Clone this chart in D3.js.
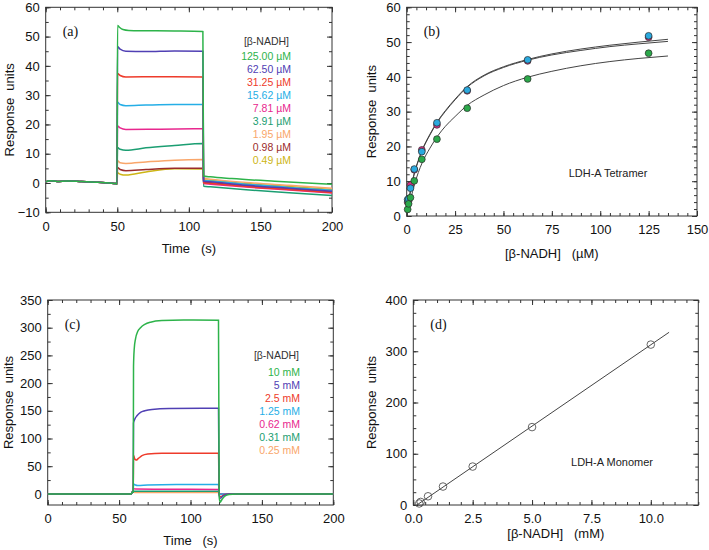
<!DOCTYPE html>
<html><head><meta charset="utf-8">
<script src="https://cdn.jsdelivr.net/npm/d3@7"></script>
<style>body{margin:0;background:#fff}svg{display:block}</style>
</head><body><svg id="chart" width="709" height="550"></svg>
<script>
// ---------------- DATA ----------------
// Panel (a): sensorgrams, LDH-A tetramer
const legendA = ["125.00 µM","62.50 µM","31.25 µM","15.62 µM","7.81 µM","3.91 µM","1.95 µM","0.98 µM","0.49 µM"];
const colorsA = ["#2db34a","#5040b4","#ee3b2b","#25aee6","#e8278e","#1b9e72","#f9a66a","#9b2b2b","#cdb515"];
const baseA = [[0,0.4],[3,0.8],[8,0.5],[15,0.7],[25,0.5],[35,0.3],[45,0.0],[49,-0.2],[49.8,-0.4]];
const a125 = [[50.2,53.8],[51.5,53.2],[54,52.4],[58,52.1],[70,52.0],[90,51.9],[109.8,51.7],[110.3,2.4],[115,2.1],[130,1.5],[160,0.6],[200,-0.4]];
const a62  = [[50.2,46.6],[52,45.7],[56,45.0],[70,44.9],[90,45.1],[109.8,45.0],[110.3,0.6],[115,0.4],[140,-0.8],[170,-1.8],[200,-2.8]];
const a31  = [[50.2,37.4],[52,36.7],[56,36.2],[80,36.3],[109.8,36.2],[110.3,0.1],[115,-0.1],[140,-1.2],[170,-2.2],[200,-3.2]];
const a15  = [[50.2,27.6],[52,26.8],[56,26.4],[70,26.6],[90,26.8],[109.8,26.8],[110.3,0.9],[115,0.7],[140,-0.4],[170,-1.5],[200,-2.5]];
const a7   = [[50.2,19.5],[52,18.8],[56,18.3],[80,18.4],[109.8,18.5],[110.3,-0.2],[115,-0.4],[140,-1.4],[170,-2.4],[200,-3.4]];
const a3   = [[50.2,12.1],[52,11.5],[56,11.2],[70,12.0],[90,12.8],[109.8,13.5],[110.3,-1.1],[115,-1.3],[140,-2.3],[170,-3.3],[200,-4.3]];
const a1   = [[50.2,7.6],[52,6.9],[56,6.7],[70,7.2],[90,7.8],[109.8,8.0],[110.3,1.6],[115,1.3],[140,0.2],[170,-0.8],[200,-1.8]];
const a09  = [[50.2,5.3],[52,4.6],[56,4.2],[70,4.6],[90,5.0],[109.8,5.0],[110.3,0.3],[115,0.1],[140,-0.9],[170,-2.0],[200,-3.0]];
const a04  = [[50.2,3.5],[52,3.0],[56,2.7],[70,3.8],[90,4.9],[109.8,4.8],[110.3,1.1],[115,0.9],[140,-0.2],[170,-1.2],[200,-2.2]];
const seriesA = [a125,a62,a31,a15,a7,a3,a1,a09,a04];

// Panel (b): steady-state response vs [β-NADH] (µM)
const concB = [0.49,0.98,1.95,3.91,7.81,15.62,31.25,62.5,125];
const respMagenta = [4.0,4.3,8.9,13.3,19.0,26.2,36.0,44.6,51.4];
const respCyan    = [4.7,4.9,8.0,13.5,18.5,26.8,36.2,44.9,51.8];
const respGreen   = [1.9,3.5,5.3,10.1,16.3,22.1,31.0,39.4,46.8];
const fitUpper1 = [[0.3,2.5],[1,4.5],[2,7.5],[4,12.5],[6,16],[8,19],[12,23.5],[16,27.3],[20,30.3],[25,33.6],[31.25,37.2],[40,40.5],[50,42.9],[62.5,45.0],[75,46.6],[90,48.0],[105,49.1],[120,50.0],[135,50.8]];
const fitUpper2 = [[0.3,2.3],[1,4.3],[2,7.3],[4,12.3],[6,15.8],[8,18.8],[12,23.3],[16,27.1],[20,30.1],[25,33.4],[31.25,37.0],[40,40.3],[50,42.7],[62.5,44.8],[75,46.3],[90,47.6],[105,48.7],[120,49.5],[135,50.2]];
const fitLower  = [[0.3,1.0],[1,2.5],[2,4.8],[4,9.0],[6,12.5],[8,15.3],[12,19.5],[16,23.0],[20,25.8],[25,28.6],[31.25,31.8],[40,34.8],[50,37.5],[62.5,39.9],[75,41.6],[90,43.2],[105,44.4],[120,45.3],[135,46.0]];

// Panel (c): sensorgrams, LDH-A monomer
const legendC = ["10 mM","5 mM","2.5 mM","1.25 mM","0.62 mM","0.31 mM","0.25 mM"];
const colorsC = ["#2db34a","#5040b4","#ee3b2b","#25aee6","#e8278e","#1b9e72","#f9a66a"];
const baseC = [[0,0],[58.5,0],[59.3,3.5],[59.9,3.5]];
const c10  = [[60.1,230],[60.6,262],[61.5,280],[63,293],[65,300],[68,306],[72,310],[80,313],[95,314],[119.6,313.5],[120.1,-6],[120.8,-15],[122,-10],[124,-4],[127,-1],[132,0],[200,0]];
const c5   = [[60.1,128],[61,135],[62.5,141],[65,147],[68,150],[73,152.5],[85,154],[119.6,154.5],[120.1,-3],[121,-8],[123,-3],[127,0],[200,0]];
const c25  = [[60.1,70],[61,63],[62,61],[63.5,64],[66,69],[70,72],[80,73.5],[119.6,73.5],[120.1,-2],[121,-5],[124,-1],[128,0],[200,0]];
const c125 = [[60.1,18],[61.5,16],[63,15],[70,16],[90,17],[119.6,17],[120.1,-1],[123,0],[200,0]];
const c062 = [[60.1,9.5],[62,8.7],[80,8.5],[119.6,8.2],[120.1,-0.5],[123,0],[200,0]];
const c031 = [[60.1,5],[70,4.8],[119.6,4.6],[120.1,0],[200,0]];
const c025 = [[60.1,3],[62,2.5],[119.6,2.5],[120.1,0],[200,0]];
const seriesC = [c10,c5,c25,c125,c062,c031,c025];

// Panel (d): response vs [β-NADH] (mM)
const concD = [0.25,0.31,0.62,1.25,2.5,5,10];
const respD = [3,6,17,36,75,152,313];
const fitD = [[0.15,0],[10.77,337]];

// ---------------- DRAWING ----------------
const svg = d3.select("#chart");
const FONT = "'Liberation Sans', Arial, Helvetica, sans-serif";
const INK = "#333";

function panel(cfg) {
  const g = svg.append("g");
  const x = d3.scaleLinear().domain(cfg.xd).range([cfg.x0, cfg.x1]);
  const y = d3.scaleLinear().domain(cfg.yd).range([cfg.y1, cfg.y0]);
  const mk = (axisFn, scale, vals, size, fmt, tr) => {
    const ax = axisFn(scale).tickValues(vals).tickSize(-size).tickPadding(cfg.pad || 9);
    ax.tickFormat(fmt ? fmt : () => "");
    const gg = g.append("g").attr("transform", tr).call(ax)
      .attr("font-family", FONT).attr("font-size", 13);
    gg.select(".domain").remove();
    gg.selectAll("line").attr("stroke", INK);
    gg.selectAll("text").attr("fill", "#111");
    return gg;
  };
  const xMaj = d3.range(cfg.xd[0], cfg.xMaxTick + 1e-9, cfg.xStep);
  const xMin = d3.range(cfg.xd[0], cfg.xd[1] + 1e-9, cfg.xMinor);
  const yMaj = d3.range(cfg.yStart, cfg.yd[1] + 1e-9, cfg.yStep);
  const yMin = d3.range(cfg.yStart, cfg.yd[1] + 1e-9, cfg.yMinor);
  const bot = `translate(0,${cfg.y1})`, top = `translate(0,${cfg.y0})`;
  const lft = `translate(${cfg.x0},0)`, rgt = `translate(${cfg.x1},0)`;
  mk(d3.axisBottom, x, xMin, 3, null, bot);
  mk(d3.axisTop, x, xMin, 3, null, top);
  mk(d3.axisLeft, y, yMin, 3, null, lft);
  mk(d3.axisRight, y, yMin, 3, null, rgt);
  mk(d3.axisBottom, x, xMaj, 5, cfg.xFmt, bot);
  mk(d3.axisTop, x, xMaj, 5, null, top);
  const ly = mk(d3.axisLeft, y, yMaj, 5, cfg.yFmt, lft);
  ly.selectAll("text").attr("x", -6);
  mk(d3.axisRight, y, yMaj, 5, null, rgt);
  g.append("rect").attr("x", cfg.x0).attr("y", cfg.y0)
    .attr("width", cfg.x1 - cfg.x0).attr("height", cfg.y1 - cfg.y0)
    .attr("fill", "none").attr("stroke", INK).attr("stroke-width", 1);
  // titles
  g.append("text").attr("x", (cfg.x0 + cfg.x1) / 2).attr("y", cfg.xtY)
    .attr("text-anchor", "middle").attr("font-family", FONT).attr("font-size", 13)
    .style("white-space", "pre").attr("fill", "#111").text(cfg.xTitle);
  g.append("text").attr("transform", `translate(${cfg.ytX},${(cfg.y0 + cfg.y1) / 2}) rotate(-90)`)
    .attr("text-anchor", "middle").attr("font-family", FONT).attr("font-size", 13)
    .style("white-space", "pre").attr("fill", "#111").text("Response  units");
  g.append("text").attr("x", cfg.x0 + 17).attr("y", cfg.y0 + 29)
    .attr("font-family", "'Liberation Serif', 'Times New Roman', serif").attr("font-size", 14)
    .attr("fill", "#111").text(cfg.tag);
  return {g, x, y};
}

const fmtInt = d3.format("d");
const fmt1 = d3.format(".1f");

// (a)
const A = panel({x0:45.7, x1:332, y0:7.3, y1:212.3, xd:[0,200], yd:[-10,60],
  xStep:50, xMaxTick:200, xMinor:10, yStart:-10, yStep:10, yMinor:5,
  xFmt:fmtInt, yFmt:fmtInt, xTitle:"Time   (s)", xtY:253, ytX:14, tag:"(a)"});
const lineA = d3.line().x(d => A.x(d[0])).y(d => A.y(d[1])).curve(d3.curveMonotoneX);
seriesA.slice().reverse().forEach((s, i) => {
  const k = seriesA.length - 1 - i;
  A.g.append("path").datum(baseA.concat(s)).attr("d", lineA)
    .attr("fill", "none").attr("stroke", colorsA[k]).attr("stroke-width", 1.5);
});
A.g.append("text").attr("x", 289).attr("y", 44.5).attr("text-anchor", "end")
  .attr("font-family", FONT).attr("font-size", 10.5).attr("fill", "#333").text("[β-NADH]");
legendA.forEach((t, i) => {
  A.g.append("text").attr("x", 291).attr("y", 59.8 + 13 * i).attr("text-anchor", "end")
    .attr("font-family", FONT).attr("font-size", 10.5).attr("fill", colorsA[i]).text(t);
});

// (b)
const B = panel({x0:406.7, x1:697, y0:7.3, y1:216, xd:[0,150], yd:[0,60],
  xStep:25, xMaxTick:150, xMinor:5, yStart:0, yStep:10, yMinor:2,
  xFmt:fmtInt, yFmt:fmtInt, xTitle:"[β-NADH]   (µM)", xtY:258, ytX:376, tag:"(b)"});
const lineB = d3.line().x(d => B.x(d[0])).y(d => B.y(d[1])).curve(d3.curveMonotoneX);
[fitUpper1, fitUpper2, fitLower].forEach(f => {
  B.g.append("path").datum(f).attr("d", lineB).attr("fill", "none")
    .attr("stroke", "#444").attr("stroke-width", 1);
});
[[respMagenta, "#d92f86"], [respCyan, "#2aa9de"], [respGreen, "#2ba84a"]].forEach(([vals, col]) => {
  B.g.selectAll(null).data(concB.map((c, i) => [c, vals[i]])).enter().append("circle")
    .attr("cx", d => B.x(d[0])).attr("cy", d => B.y(d[1])).attr("r", 3.4)
    .attr("fill", col).attr("stroke", "#2a2a2a").attr("stroke-width", 0.7);
});
B.g.append("text").attr("x", 608).attr("y", 176.5).attr("text-anchor", "middle")
  .attr("font-family", FONT).attr("font-size", 11).attr("fill", "#222").text("LDH-A Tetramer");

// (c)
const C = panel({x0:47.7, x1:333.3, y0:300, y1:505, xd:[0,200], yd:[-20,350],
  xStep:50, xMaxTick:200, xMinor:10, yStart:0, yStep:50, yMinor:25,
  xFmt:fmtInt, yFmt:fmtInt, xTitle:"Time   (s)", xtY:545, ytX:13, tag:"(c)"});
const lineC = d3.line().x(d => C.x(d[0])).y(d => C.y(d[1])).curve(d3.curveMonotoneX);
seriesC.slice().reverse().forEach((s, i) => {
  const k = seriesC.length - 1 - i;
  C.g.append("path").datum(baseC.concat(s)).attr("d", lineC)
    .attr("fill", "none").attr("stroke", colorsC[k]).attr("stroke-width", 1.5);
});
C.g.append("text").attr("x", 299).attr("y", 359).attr("text-anchor", "end")
  .attr("font-family", FONT).attr("font-size", 10.5).attr("fill", "#333").text("[β-NADH]");
legendC.forEach((t, i) => {
  C.g.append("text").attr("x", 300).attr("y", 376 + 13 * i).attr("text-anchor", "end")
    .attr("font-family", FONT).attr("font-size", 10.5).attr("fill", colorsC[i]).text(t);
});

// (d)
const D = panel({x0:413.3, x1:698.3, y0:300, y1:505, xd:[0,12], yd:[0,400],
  xStep:2.5, xMaxTick:10, xMinor:0.5, yStart:0, yStep:100, yMinor:25,
  xFmt:fmt1, yFmt:fmtInt, xTitle:"[β-NADH]   (mM)", xtY:538, ytX:376, tag:"(d)"});
const lineD = d3.line().x(d => D.x(d[0])).y(d => D.y(d[1]));
D.g.append("path").datum(fitD).attr("d", lineD).attr("fill", "none")
  .attr("stroke", "#444").attr("stroke-width", 1);
D.g.selectAll(null).data(concD.map((c, i) => [c, respD[i]])).enter().append("circle")
  .attr("cx", d => D.x(d[0])).attr("cy", d => D.y(d[1])).attr("r", 3.8)
  .attr("fill", "none").attr("stroke", "#555").attr("stroke-width", 0.9);
D.g.append("text").attr("x", 612).attr("y", 466).attr("text-anchor", "middle")
  .attr("font-family", FONT).attr("font-size", 11).attr("fill", "#222").text("LDH-A Monomer");
</script></body></html>
